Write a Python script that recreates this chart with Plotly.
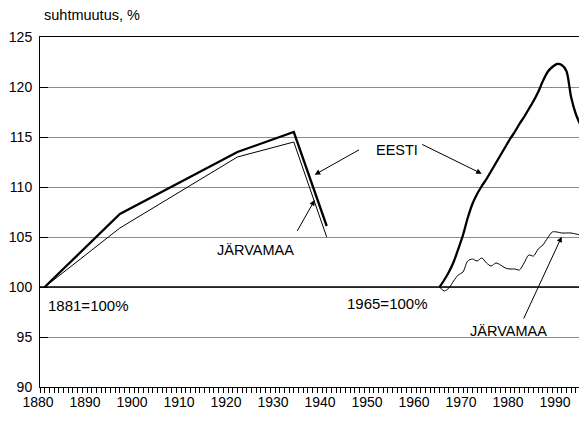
import plotly.graph_objects as go

# ---- data ----
years_a = [1881, 1897, 1922, 1934, 1941]
eesti_a = [100.0, 107.3, 113.5, 115.5, 106.1]
jarva_a = [100.0, 105.9, 113.0, 114.5, 105.0]

years_b = list(range(1965, 1996))
eesti_b = [100.0, 100.7, 101.5, 102.5, 103.8, 105.2, 106.9, 108.3, 109.3, 110.1,
           110.8, 111.6, 112.4, 113.2, 114.0, 114.8, 115.5, 116.3, 117.0, 117.8,
           118.6, 119.5, 120.6, 121.5, 122.0, 122.3, 122.2, 121.6, 119.0, 117.3, 116.2]
jarva_b = [100.0, 99.6, 99.9, 100.6, 101.2, 101.5, 102.6, 102.8, 102.6, 102.9,
           102.4, 102.1, 102.4, 102.2, 101.9, 101.8, 101.8, 101.7, 102.4, 103.2,
           103.1, 103.8, 104.2, 104.9, 105.5, 105.5, 105.4, 105.4, 105.4, 105.3, 105.2]

x_ticks = list(range(1880, 2000, 10))
y_ticks = [90, 95, 100, 105, 110, 115, 120, 125]

FONT = "Liberation Sans, Arial, sans-serif"

fig = go.Figure()
fig.add_trace(go.Scatter(x=years_a, y=jarva_a, mode="lines",
                         line=dict(color="black", width=1), showlegend=False))
fig.add_trace(go.Scatter(x=years_a, y=eesti_a, mode="lines",
                         line=dict(color="black", width=2.3), showlegend=False))
fig.add_trace(go.Scatter(x=years_b, y=jarva_b, mode="lines",
                         line=dict(color="black", width=1, shape="spline", smoothing=0.8),
                         showlegend=False))
fig.add_trace(go.Scatter(x=years_b, y=eesti_b, mode="lines",
                         line=dict(color="black", width=2.3, shape="spline", smoothing=0.8),
                         showlegend=False))

# 100% baseline
fig.add_shape(type="line", xref="paper", x0=0, x1=1, yref="y", y0=100, y1=100,
              line=dict(color="black", width=1.6), layer="above")

# text labels
def label(x, y, t, size=14.5):
    fig.add_annotation(x=x, y=y, text=t, showarrow=False,
                       font=dict(family=FONT, size=size, color="black"),
                       xanchor="center", yanchor="middle")

label(1956.0, 113.73, "EESTI")
label(1925.9, 103.73, "JÄRVAMAA")
label(1979.66, 95.63, "JÄRVAMAA")
label(1890.36, 98.13, "1881=100%", 15)
label(1953.94, 98.33, "1965=100%", 15)

# arrows
def arrow(hx, hy, tx, ty):
    fig.add_annotation(x=hx, y=hy, ax=tx, ay=ty, xref="x", yref="y",
                       axref="x", ayref="y", text="", showarrow=True,
                       arrowhead=2, arrowsize=1.1, arrowwidth=1, arrowcolor="black",
                       standoff=0, startstandoff=0)

arrow(1938.45, 111.23, 1948.2, 113.8)
arrow(1973.98, 111.33, 1961.0, 114.33)
arrow(1938.45, 108.7, 1934.55, 105.46)
arrow(1991.0, 105.03, 1982.77, 96.7)

# axis title
fig.add_annotation(xref="paper", yref="paper", x=0, y=1 + 22 / 350, xshift=2,
                   text="suhtmuutus, %", showarrow=False, xanchor="left", yanchor="middle",
                   font=dict(family=FONT, size=14.5, color="black"))

fig.update_layout(
    width=579, height=425,
    margin=dict(l=40, r=0, t=37, b=38),
    paper_bgcolor="white", plot_bgcolor="white",
    font=dict(family=FONT, size=14, color="black"),
    xaxis=dict(range=[1880, 1880 + 539 / 4.7], tickmode="array", tickvals=x_ticks,
               ticktext=[str(v) for v in x_ticks],
               showgrid=False, zeroline=False, showline=True, linecolor="black",
               linewidth=1, mirror=True,
               ticks="outside", ticklen=5, tickcolor="black", tickwidth=1,
               ticklabelshift=-2, ticklabelstandoff=-3,
               minor=dict(dtick=1, tick0=1880, ticks="outside", ticklen=5,
                          tickcolor="black", tickwidth=1, showgrid=False),
               tickfont=dict(family=FONT, size=14, color="black")),
    yaxis=dict(range=[90, 125], tickmode="array", tickvals=y_ticks,
               showgrid=True, gridcolor="#8c8c8c", gridwidth=1,
               zeroline=False, showline=True, linecolor="black", linewidth=1,
               ticks="inside", ticklen=8, tickcolor="black", ticklabelstandoff=4,
               tickfont=dict(family=FONT, size=14, color="black")),
)

fig.write_html("out.html", config={"displayModeBar": False},
               post_script="document.body.style.margin='0';document.body.style.overflow='hidden';")
